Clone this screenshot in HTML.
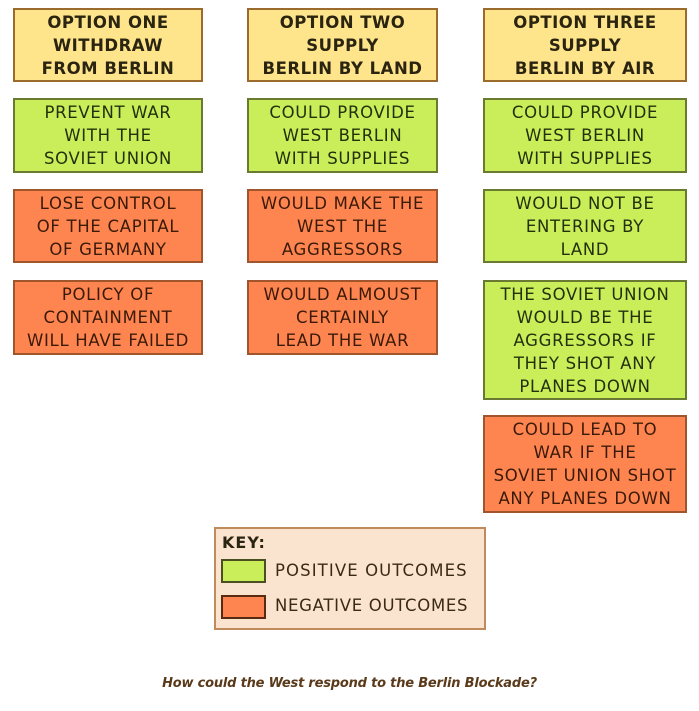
<!DOCTYPE html>
<html><head><meta charset="utf-8"><style>
body{margin:0;width:699px;height:711px;background:#fff;position:relative;overflow:hidden;font-family:"DejaVu Sans","Liberation Sans",sans-serif;}
.b{position:absolute;box-sizing:border-box;border:2px solid #8a6a3a;display:flex;align-items:center;justify-content:center;text-align:center;font-size:16.5px;line-height:23px;color:#2a2410;letter-spacing:0.7px;}
.y{background:#fee58c;font-weight:bold;border-color:#9a6b2c;letter-spacing:0.5px;}
.g{background:#c9ee5a;border-color:#6a7a30;color:#24300c;}
.o{background:#ff8550;border-color:#a0552c;color:#3a1a08;}
.c1{left:13px;width:190px}.c2{left:247px;width:191px}.c3{left:483px;width:204px}
</style></head><body>
<div class="b y c1" style="top:8px;height:74px">OPTION ONE<br>WITHDRAW<br>FROM BERLIN</div>
<div class="b y c2" style="top:8px;height:74px">OPTION TWO<br>SUPPLY<br>BERLIN BY LAND</div>
<div class="b y c3" style="top:8px;height:74px">OPTION THREE<br>SUPPLY<br>BERLIN BY AIR</div>

<div class="b g c1" style="top:98px;height:75px">PREVENT WAR<br>WITH THE<br>SOVIET UNION</div>
<div class="b g c2" style="top:98px;height:75px">COULD PROVIDE<br>WEST BERLIN<br>WITH SUPPLIES</div>
<div class="b g c3" style="top:98px;height:75px">COULD PROVIDE<br>WEST BERLIN<br>WITH SUPPLIES</div>

<div class="b o c1" style="top:189px;height:74px">LOSE CONTROL<br>OF THE CAPITAL<br>OF GERMANY</div>
<div class="b o c2" style="top:189px;height:74px">WOULD MAKE THE<br>WEST THE<br>AGGRESSORS</div>
<div class="b g c3" style="top:189px;height:74px">WOULD NOT BE<br>ENTERING BY<br>LAND</div>

<div class="b o c1" style="top:280px;height:75px">POLICY OF<br>CONTAINMENT<br>WILL HAVE FAILED</div>
<div class="b o c2" style="top:280px;height:75px">WOULD ALMOUST<br>CERTAINLY<br>LEAD THE WAR</div>
<div class="b g c3" style="top:280px;height:120px">THE SOVIET UNION<br>WOULD BE THE<br>AGGRESSORS IF<br>THEY SHOT ANY<br>PLANES DOWN</div>

<div class="b o c3" style="top:415px;height:98px">COULD LEAD TO<br>WAR IF THE<br>SOVIET UNION SHOT<br>ANY PLANES DOWN</div>

<div style="position:absolute;left:214px;top:527px;width:272px;height:103px;box-sizing:border-box;background:#fbe4cf;border:2px solid #c08a5a;"></div>
<div style="position:absolute;left:222px;top:533px;font-size:16px;font-weight:bold;color:#2a2410;letter-spacing:1px;">KEY:</div>
<div style="position:absolute;left:221px;top:559px;width:45px;height:24px;box-sizing:border-box;background:#c9ee5a;border:2px solid #4a5020;"></div>
<div style="position:absolute;left:275px;top:561px;font-size:16.5px;color:#3a2a14;letter-spacing:1.1px;">POSITIVE OUTCOMES</div>
<div style="position:absolute;left:221px;top:595px;width:45px;height:24px;box-sizing:border-box;background:#ff8550;border:2px solid #5a2a10;"></div>
<div style="position:absolute;left:275px;top:596px;font-size:16.5px;color:#3a2a14;letter-spacing:0.7px;">NEGATIVE OUTCOMES</div>

<div style="position:absolute;left:0;width:699px;top:676px;text-align:center;font-size:13px;font-style:italic;font-weight:bold;color:#5a3a1a;letter-spacing:-0.2px;">How could the West respond to the Berlin Blockade?</div>
</body></html>
